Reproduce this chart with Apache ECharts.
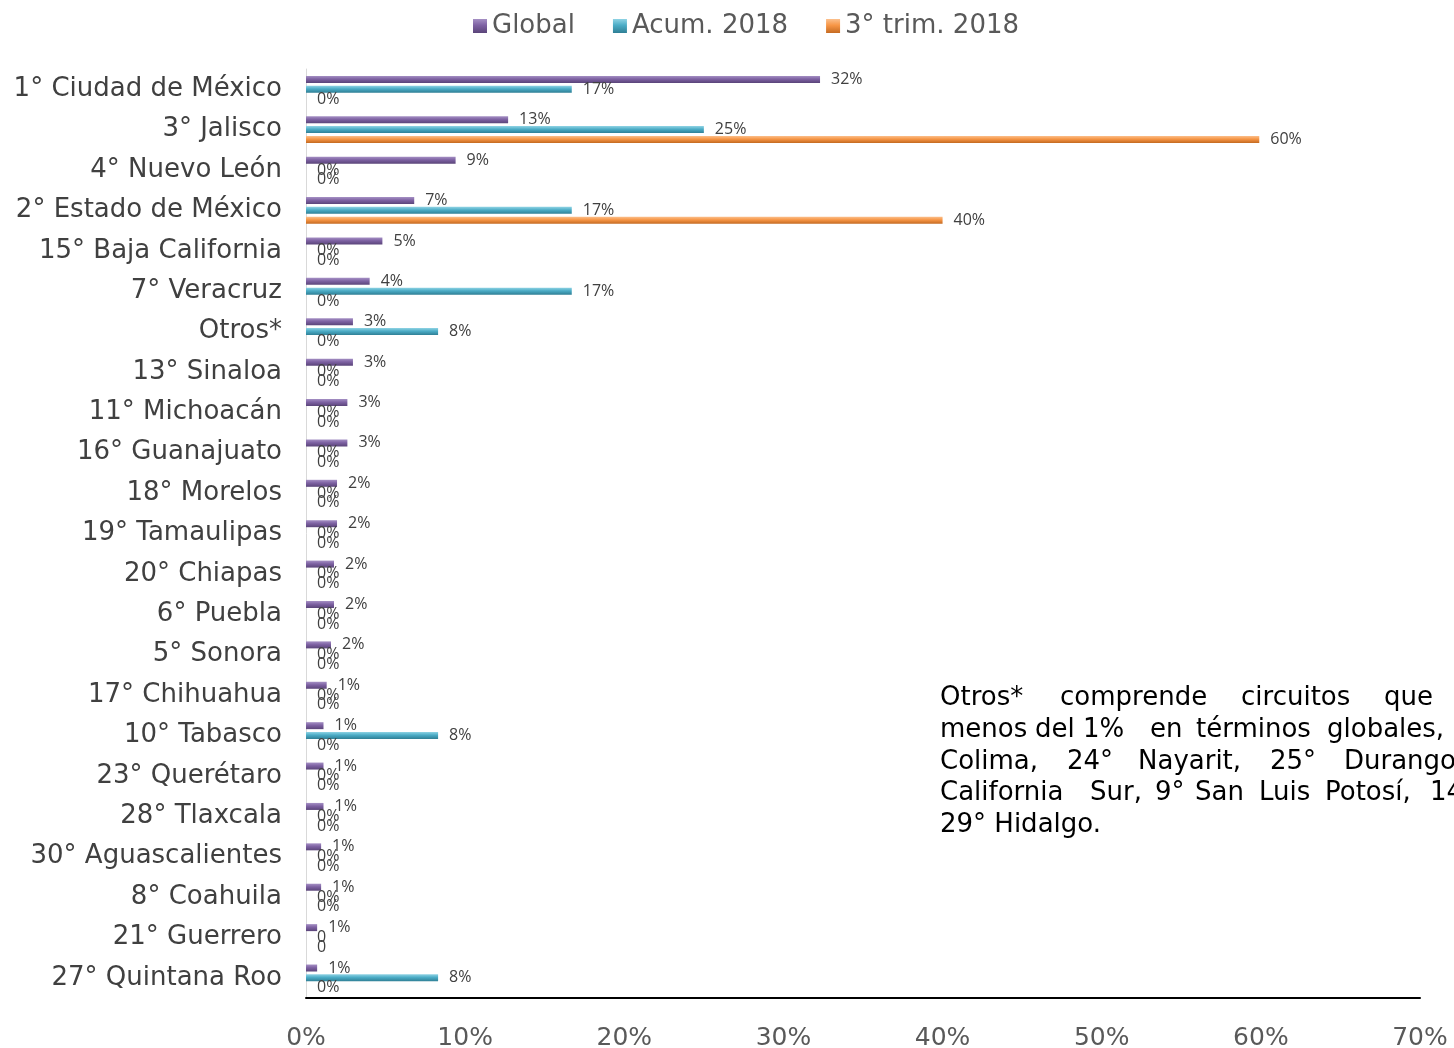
<!DOCTYPE html>
<html>
<head>
<meta charset="utf-8">
<script src="https://cdn.jsdelivr.net/npm/echarts@6/dist/echarts.min.js"></script>
<style>
  html, body { margin: 0; padding: 0; background: #fff; }
  #chart { width: 1454px; height: 1048px; }
</style>
</head>
<body>
<div id="chart"></div>
<script>
// estados (orden de arriba hacia abajo)
const estados = [
  "1° Ciudad de México", "3° Jalisco", "4° Nuevo León", "2° Estado de México",
  "15° Baja California", "7° Veracruz", "Otros*", "13° Sinaloa", "11° Michoacán",
  "16° Guanajuato", "18° Morelos", "19° Tamaulipas", "20° Chiapas", "6° Puebla",
  "5° Sonora", "17° Chihuahua", "10° Tabasco", "23° Querétaro", "28° Tlaxcala",
  "30° Aguascalientes", "8° Coahuila", "21° Guerrero", "27° Quintana Roo"
];
// porcentajes
const global = [32.3, 12.7, 9.4, 6.8, 4.8, 4.0, 2.95, 2.95, 2.6, 2.6, 1.95, 1.95,
  1.76, 1.76, 1.57, 1.3, 1.1, 1.1, 1.1, 0.95, 0.95, 0.7, 0.7];
const acum2018 = [16.7, 25.0, 0, 16.7, 0, 16.7, 8.3, 0, 0, 0, 0, 0,
  0, 0, 0, 0, 8.3, 0, 0, 0, 0, 0, 8.3];
const trim3 = [0, 59.9, 0, 40.0, 0, 0, 0, 0, 0, 0, 0, 0,
  0, 0, 0, 0, 0, 0, 0, 0, 0, 0, 0];
// etiquetas que salen sin "%"
const sinPct = ["21° Guerrero"];
const ticksX = [0, 10, 20, 30, 40, 50, 60, 70];

// nota (texto justificado, palabra por palabra)
const nota = [
  { y: 698, partes: [["Otros*", 940], ["comprende", 1060], ["circuitos", 1241], ["que", 1384]] },
  { y: 730, partes: [["menos", 940], ["del", 1035], ["1%", 1083], ["en", 1150], ["términos", 1196], ["globales,", 1327]] },
  { y: 762, partes: [["Colima,", 940], ["24°", 1067], ["Nayarit,", 1138], ["25°", 1270], ["Durango", 1344]] },
  { y: 793, partes: [["California", 940], ["Sur,", 1090], ["9°", 1155], ["San", 1195], ["Luis", 1259], ["Potosí,", 1325], ["14°", 1430]] },
  { y: 825, partes: [["29° Hidalgo.", 940]] }
];

let chartDom = document.getElementById("chart");
let myChart = echarts.init(chartDom);

function grad(c1, c2, c3) {
  return new echarts.graphic.LinearGradient(0, 0, 0, 1, [
    { offset: 0, color: c1 },
    { offset: 0.45, color: c2 },
    { offset: 1, color: c3 },
  ]);
}

function serie(nombre, datos, colores) {
  return {
    name: nombre,
    type: "bar",
    data: datos,
    barWidth: 7,
    barGap: "40%",
    itemStyle: { color: grad(colores[0], colores[1], colores[2]) },
    label: {
      show: true,
      position: "right",
      distance: 11,
      color: "#404040",
      fontFamily: "Open Sans",
      fontSize: 16,
      formatter: (p) => {
        if (sinPct.includes(p.name) && p.value === 0) return "0";
        return Math.round(p.value) + "%";
      },
    },
  };
}

let graficos = [];
nota.forEach((l) => {
  l.partes.forEach((pt) => {
    graficos.push({
      type: "text",
      x: pt[1],
      y: l.y,
      style: {
        text: pt[0],
        fill: "#000",
        font: '26px "DejaVu Sans"',
        textVerticalAlign: "middle",
      },
    });
  });
});

let option = {
  animation: false,
  legend: {
    top: 8,
    left: 468,
    itemWidth: 14,
    itemHeight: 14,
    itemGap: 38,
    icon: "rect",
    textStyle: { fontFamily: "DejaVu Sans", fontSize: 26, color: "#595959" },
  },
  grid: { left: 306, right: 34, top: 69, bottom: 50, outerBoundsMode: "none" },
  xAxis: {
    type: "value",
    min: 0,
    max: 70,
    interval: 10,
    splitLine: { show: false },
    axisTick: { show: false },
    axisLine: { show: true, lineStyle: { color: "#000", width: 2 } },
    axisLabel: {
      margin: 28,
      color: "#595959",
      fontFamily: "DejaVu Sans",
      fontSize: 25,
      formatter: (v) => (ticksX.includes(v) ? v + "%" : ""),
    },
  },
  yAxis: {
    type: "category",
    inverse: true,
    data: estados,
    axisTick: { show: false },
    axisLine: { show: true, lineStyle: { color: "#d9d9d9", width: 1 } },
    axisLabel: {
      margin: 24,
      color: "#404040",
      fontFamily: "DejaVu Sans",
      fontSize: 26,
      padding: [8, 0, 0, 0],
    },
  },
  series: [
    serie("Global", global, ["#a590c4", "#7e62a3", "#5a4479"]),
    serie("Acum. 2018", acum2018, ["#8fd3e4", "#4bacc6", "#2f7f95"]),
    serie("3° trim. 2018", trim3, ["#fbc08d", "#f79646", "#c56b22"]),
  ],
  graphic: graficos,
};
myChart.setOption(option);
</script>
</body>
</html>
